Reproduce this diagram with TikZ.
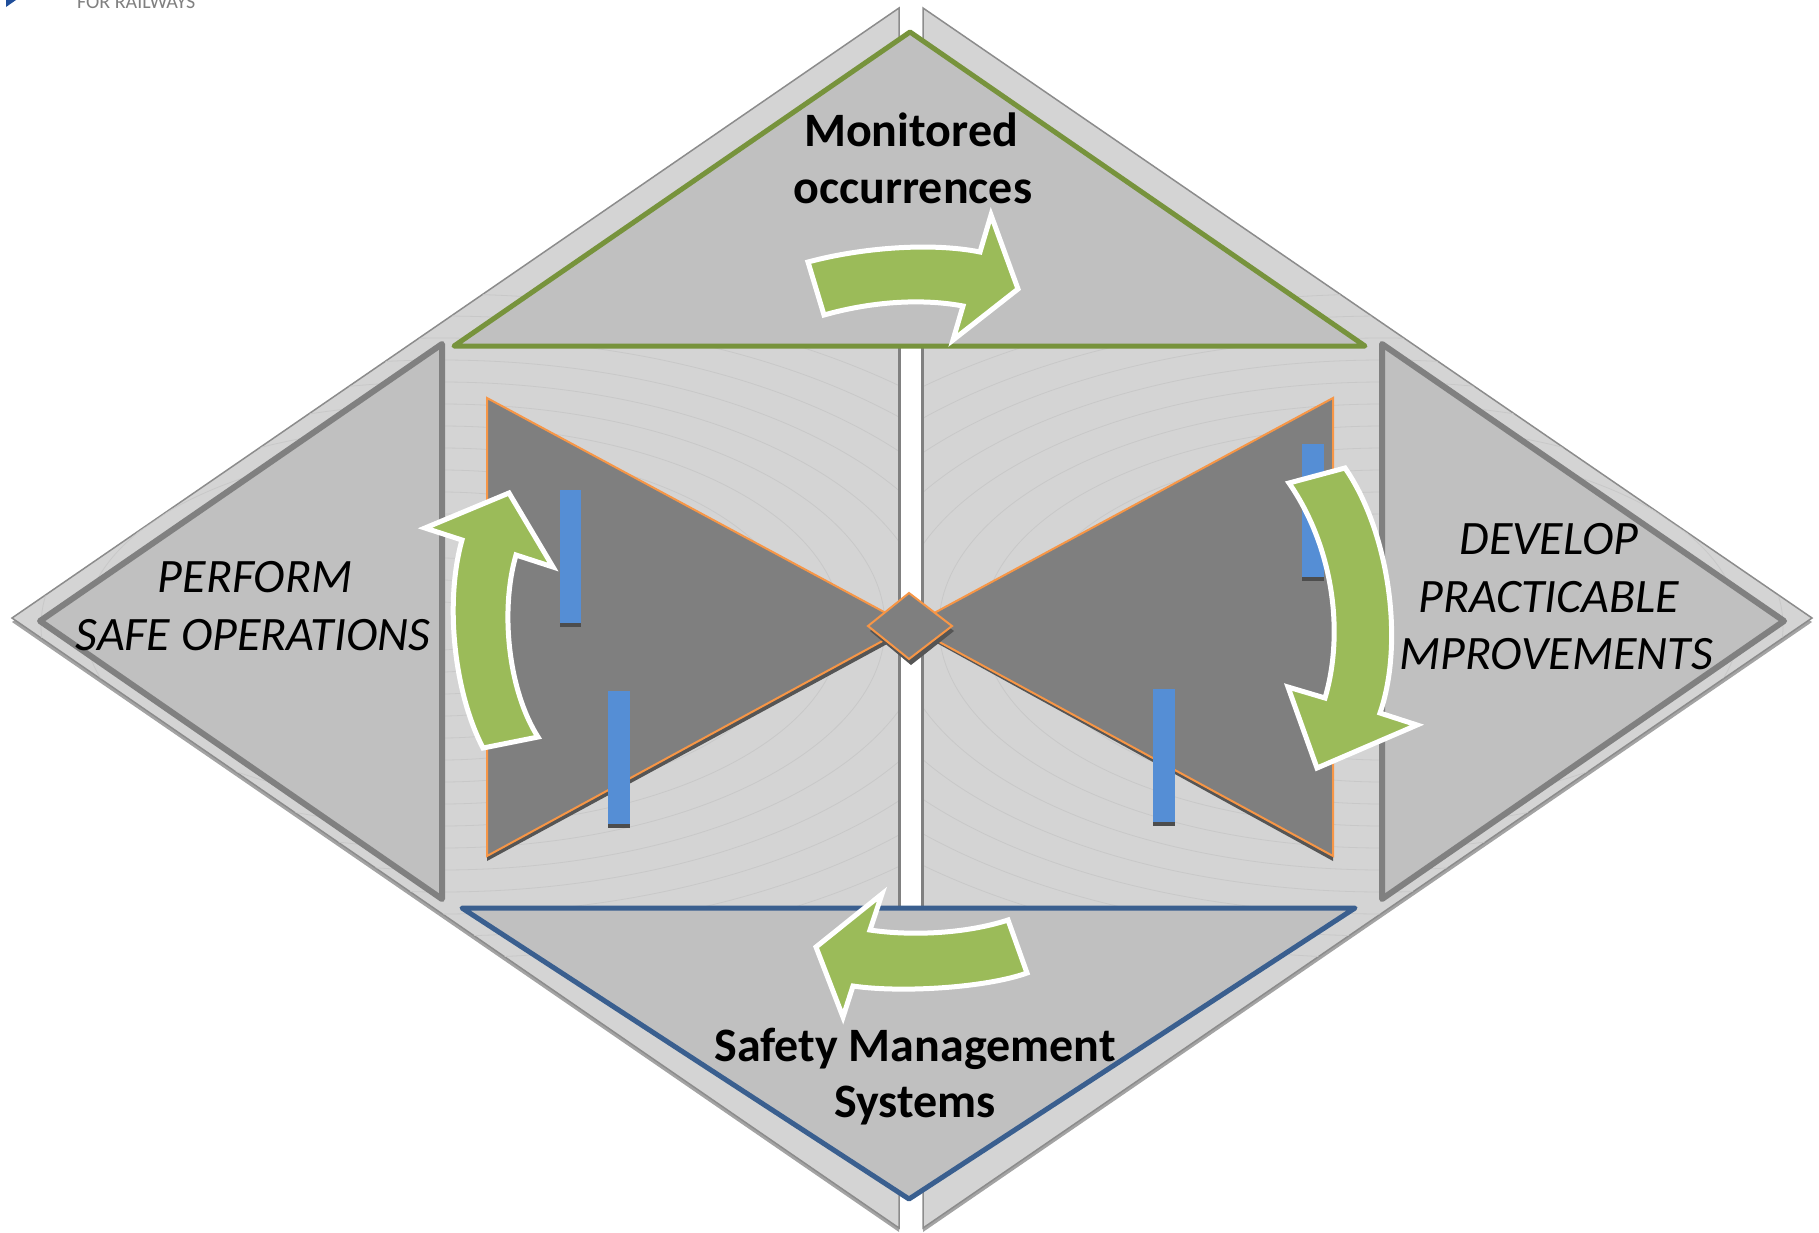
\documentclass[tikz,border=0pt]{standalone}
\usepackage{fontspec}
\setmainfont{Carlito}
\definecolor{strip}{HTML}{D4D4D4}
\definecolor{stripline}{HTML}{8C8C8C}
\definecolor{halfsh}{HTML}{A3A3A3}
\definecolor{tri}{HTML}{C0C0C0}
\definecolor{trigray}{HTML}{808080}
\definecolor{grn}{HTML}{77933C}
\definecolor{blu}{HTML}{3A5F8F}
\definecolor{bow}{HTML}{7F7F7F}
\definecolor{bowsh}{HTML}{555555}
\definecolor{org}{HTML}{F79646}
\definecolor{barc}{HTML}{558ED5}
\definecolor{barsh}{HTML}{4D4D4D}
\definecolor{arr}{HTML}{9BBB59}
\definecolor{faintline}{HTML}{C8C8C8}
\definecolor{logoblue}{HTML}{1F4E9A}
\definecolor{logogray}{HTML}{808080}
\tikzset{
  half/.style={fill=strip, draw=stripline, line width=1.5pt, line join=miter},
  halfshadow/.style={fill=halfsh},
  gapedge/.style={draw=trigray, line width=3pt},
  sidetri/.style={fill=tri, draw=trigray, line width=6pt, line join=round},
  toptri/.style={fill=tri, draw=grn, line width=5pt, line join=round},
  bottri/.style={fill=tri, draw=blu, line width=5pt, line join=round},
  bowtri/.style={fill=bow, draw=org, line width=2pt, line join=miter},
  bowshadow/.style={fill=bowsh},
  barbox/.style={fill=barc},
  barshadow/.style={fill=barsh},
  greenarrow/.style={fill=arr, draw=white, line width=5pt, line join=miter},
  faint/.style={draw=faintline, line width=0.8pt},
  bigbold/.style={font=\fontsize{48}{58}\selectfont\bfseries, anchor=base, inner sep=0pt},
  bigit/.style={font=\fontsize{48}{58}\selectfont\itshape, anchor=base, inner sep=0pt},
}
\begin{document}
\begin{tikzpicture}[x=1pt,y=-1pt]
\useasboundingbox (0,0) rectangle (1819,1232);
\clip (0,0) rectangle (1819,1232);
% logo remnants
\fill[logoblue] (6,0) -- (16,0) -- (6,7) -- cycle;
\node[font=\fontsize{20}{24}\selectfont, text=logogray, anchor=base west, inner sep=0pt] (logo) at (77,8) {FOR RAILWAYS};
% half diamonds: shadows
\fill[halfshadow] (899,12) -- (12,622) -- (899,1232) -- cycle;
\fill[halfshadow] (923,12) -- (1812,622) -- (923,1232) -- cycle;
% half diamonds
\path[half] (899,8) -- (12,618) -- (899,1228) -- cycle;
\path[half] (923,8) -- (1812,618) -- (923,1228) -- cycle;
% faint field lines
\begin{scope}
  \clip (898,9) -- (13,618) -- (898,1227) -- cycle;
  \foreach \r in {24,46,68,90,112,134,156,178,200,222,244,266,288,310,332}
    \draw[faint] (441,626) ellipse [x radius=2*\r pt, y radius=\r pt];
\end{scope}
\begin{scope}
  \clip (924,9) -- (1811,618) -- (924,1227) -- cycle;
  \foreach \r in {24,46,68,90,112,134,156,178,200,222,244,266,288,310,332}
    \draw[faint] (1383,626) ellipse [x radius=2*\r pt, y radius=\r pt];
\end{scope}
% white gap edges in the middle
\draw[gapedge] (899.5,340) -- (899.5,912);
\draw[gapedge] (922.5,340) -- (922.5,912);
% side triangles
\path[sidetri] (442,344) -- (40,621) -- (442,899) -- cycle;
\path[sidetri] (1382,344) -- (1784,621) -- (1382,899) -- cycle;
% top and bottom triangles
\path[toptri] (910,32) -- (1365,346) -- (454,346) -- cycle;
\path[bottri] (909,1199) -- (1355,908) -- (462,908) -- cycle;
% bow tie shadows
\fill[bowshadow] (487,402) -- (913,630) -- (487,861) -- cycle;
\fill[bowshadow] (1333,402) -- (913,630) -- (1333,861) -- cycle;
% bow tie
\path[bowtri] (487,398) -- (910,626) -- (487,856) -- cycle;
\path[bowtri] (1333,398) -- (910,626) -- (1333,856) -- cycle;
% center diamond
\fill[bowshadow] (870,631) -- (911,598) -- (954,631) -- (911,665) -- cycle;
\path[bowtri] (868,626) -- (909,593) -- (952,626) -- (909,659) -- cycle;
% blue bars
\fill[barshadow] (560,495) rectangle (581,627);
\fill[barbox] (560,490) rectangle (581,623);
\fill[barshadow] (608,695) rectangle (630,828);
\fill[barbox] (608,691) rectangle (630,824);
\fill[barshadow] (1302,448) rectangle (1324,581);
\fill[barbox] (1302,444) rectangle (1324,577);
\fill[barshadow] (1153,693) rectangle (1175,826);
\fill[barbox] (1153,689) rectangle (1175,822);
% green arrows
\path[greenarrow] (808,262) .. controls (860,248) and (930,242) .. (980,252)
  -- (991,215) -- (1018,289) -- (953,340) -- (963,306)
  .. controls (920,298) and (870,302) .. (824,315) -- cycle;
\path[greenarrow] (1289,483) -- (1345,468) .. controls (1388,530) and (1405,640) .. (1380,713)
  -- (1417,725) -- (1317,768) -- (1288,687) -- (1325,698)
  .. controls (1345,630) and (1332,545) .. (1289,483) -- cycle;
\path[greenarrow] (1008,920) -- (1027,973) .. controls (985,988) and (900,993) .. (853,986)
  -- (843,1017) -- (816,947) -- (882,894) -- (870,930)
  .. controls (910,936) and (965,934) .. (1008,920) -- cycle;
\path[greenarrow] (483,748) -- (538,737) .. controls (508,690) and (500,610) .. (516,555)
  -- (553,567) -- (509,493) -- (425,528) -- (462,540)
  .. controls (445,600) and (453,690) .. (483,748) -- cycle;
% texts
\node[bigbold] (mon1) at (911,146) {Monitored};
\node[bigbold] (mon2) at (913,203) {occurrences};
\node[bigbold] (sms1) at (915,1061) {Safety Management};
\node[bigbold] (sms2) at (915,1117) {Systems};
\node[bigit] (perf1) at (255,592) {PERFORM};
\node[bigit] (perf2) at (253,650) {SAFE OPERATIONS};
\node[bigit] (dev1) at (1549,554) {DEVELOP};
\node[bigit] (dev2) at (1549,612) {PRACTICABLE};
\node[bigit] (dev3) at (1556,669) {MPROVEMENTS};
\end{tikzpicture}
\end{document}
